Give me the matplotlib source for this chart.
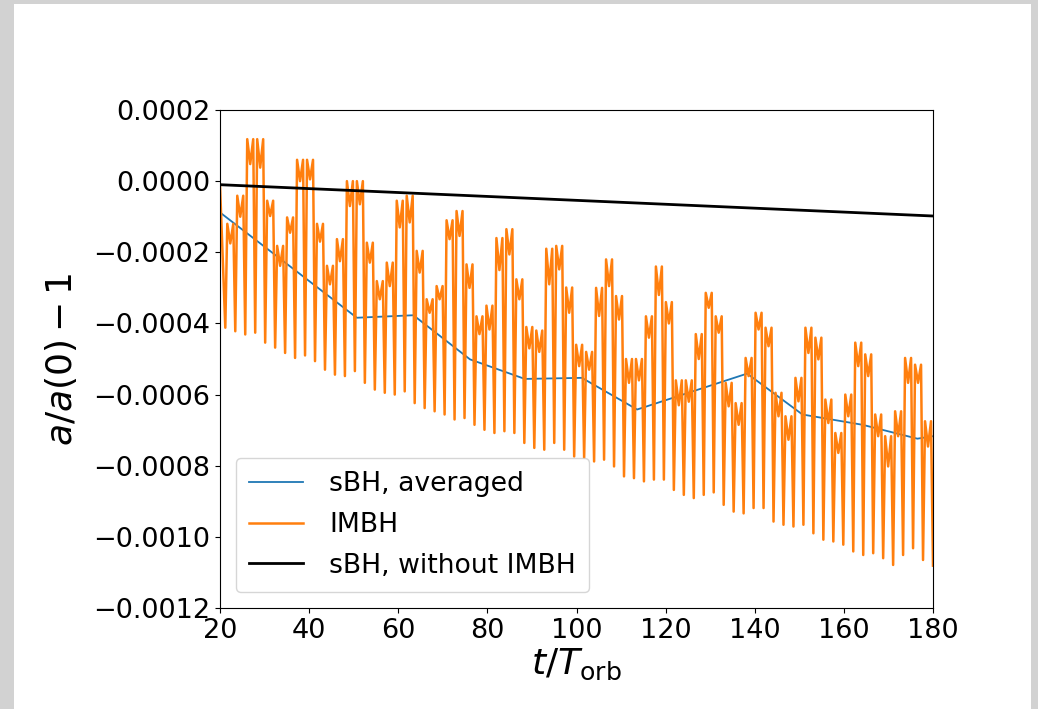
import matplotlib
matplotlib.use("Agg")
import matplotlib.pyplot as plt
import numpy as np
from matplotlib.patches import Rectangle

# IMBH run: a/a(0) - 1 per orbit, in units of 1e-4.
# low  = value at the sharp minimum that opens each orbit
# high = value of the two crests inside the orbit, dip = value between them
imbh_low = [
    -4.12, -4.22, -4.31, -4.26, -4.54, -4.68, -4.83, -4.97, -4.90, -5.06,
    -5.30, -5.44, -5.48, -5.34, -5.67, -5.86, -5.95, -6.00, -5.91, -6.24,
    -6.38, -6.47, -6.56, -6.70, -6.66, -6.85, -6.99, -7.08, -7.03, -7.08,
    -7.36, -7.50, -7.55, -7.36, -7.55, -7.74, -7.78, -7.88, -7.83, -8.02,
    -8.30, -8.35, -8.44, -8.39, -8.39, -8.68, -8.82, -8.91, -8.82, -8.75,
    -9.10, -9.29, -9.34, -9.19, -9.19, -9.57, -9.66, -9.71, -9.66, -9.90,
    -10.08, -10.13, -10.22, -10.41, -10.51, -10.46, -10.60, -10.79, -10.51, -10.32,
    -10.65, -10.81,
]
imbh_high = [
    -1.20, -0.41, 1.18, 1.18, -0.55, -1.82, -1.02, 0.60, 0.60, -1.20,
    -2.38, -1.63, 0.00, 0.00, -1.73, -2.81, -2.29, -0.55, -0.41, -1.96,
    -3.32, -2.95, -1.10, -0.84, -2.34, -3.80, -3.50, -1.60, -1.35, -2.76,
    -4.10, -4.20, -1.90, -1.82, -2.99, -4.60, -4.80, -3.00, -2.20, -3.23,
    -5.00, -5.00, -3.80, -2.40, -3.40, -5.60, -5.60, -4.30, -3.14, -3.80,
    -5.67, -6.24, -4.97, -3.70, -4.12, -5.95, -6.61, -5.53, -4.12, -4.40,
    -6.14, -7.08, -6.00, -4.54, -4.87, -6.56, -7.17, -6.47, -4.97, -5.16,
    -6.75,
]
imbh_dip = [
    -1.75, -1.00, 0.48, 0.38, -0.98, -2.38, -1.45, 0.00, 0.05, -1.70,
    -2.90, -2.25, -0.70, -0.65, -2.29, -3.32, -2.95, -1.30, -1.16, -2.57,
    -3.70, -3.32, -1.63, -1.54, -3.00, -4.30, -4.17, -2.50, -2.06, -3.32,
    -4.70, -4.80, -2.90, -2.48, -3.70, -5.20, -5.30, -3.79, -2.95, -3.89,
    -5.67, -5.60, -4.40, -3.20, -4.00, -6.30, -6.20, -5.00, -3.56, -4.26,
    -6.33, -6.85, -5.48, -4.17, -4.64, -6.61, -7.27, -6.19, -4.83, -5.01,
    -6.80, -7.64, -6.61, -5.20, -5.48, -7.17, -8.02, -7.17, -5.67, -5.67,
    -7.46,
]
imbh_start = -0.10

# orbit-averaged sBH curve (breakpoints)
avg_t = [20.0, 50.7, 63.4, 76.1, 88.4, 101.2, 113.6, 138.3, 150.7, 164.2, 176.5, 180.0]
avg_val = [-0.88, -3.84, -3.77, -5.01, -5.56, -5.53, -6.42, -5.41, -6.56, -6.85, -7.24, -7.17]

# sBH without the IMBH
solo_t = [20.0, 180.0]
solo_val = [-0.10, -0.98]

scale = 1e-4

# time of each orbit minimum
t_low = np.linspace(21.19, 180.0, len(imbh_low))
period = t_low[1] - t_low[0]

t_imbh = [20.0]
v_imbh = [imbh_start]
for k in range(len(imbh_high)):
    t0 = t_low[k]
    t_imbh += [t0, t0 + 0.2 * period, t0 + 0.5 * period, t0 + 0.8 * period]
    v_imbh += [imbh_low[k], imbh_high[k], imbh_dip[k], imbh_high[k]]
t_imbh.append(t_low[-1])
v_imbh.append(imbh_low[-1])

fig = plt.figure(figsize=(10.38, 7.09), dpi=100)
fig.patch.set_facecolor("white")

# grey surround
for x0, y0, w, h in [(0, 0, 14 / 1038, 1), (0, 1 - 4 / 709, 1, 4 / 709), (1 - 7 / 1038, 0, 7 / 1038, 1)]:
    fig.patches.append(Rectangle((x0, y0), w, h, transform=fig.transFigure,
                                 facecolor="#d2d2d2", edgecolor="none", zorder=0))

ax = fig.add_axes([220 / 1038, 1 - 608 / 709, 713 / 1038, 498 / 709])

ax.plot(avg_t, np.array(avg_val) * scale, color="#1f77b4", lw=1.3, label="sBH, averaged")
ax.plot(t_imbh, np.array(v_imbh) * scale, color="#ff7f0e", lw=1.8, label="IMBH")
ax.plot(solo_t, np.array(solo_val) * scale, color="black", lw=2.0, label="sBH, without IMBH")

ax.set_xlim(20, 180)
ax.set_ylim(-0.0012, 0.0002)
ax.set_xticks(np.arange(20, 181, 20))
ax.set_yticks(np.arange(-0.0012, 0.00021, 0.0002))
ax.tick_params(labelsize=19.5)

ax.set_xlabel(r"$t/T_\mathrm{orb}$", fontsize=26, labelpad=2)
ax.set_ylabel(r"$a/a(0)-1$", fontsize=26, labelpad=10)

ax.legend(loc="lower left", fontsize=19.2, handletextpad=1.0, labelspacing=0.55,
          borderaxespad=0.6, borderpad=0.5)

fig.savefig("out.png", dpi=100)
